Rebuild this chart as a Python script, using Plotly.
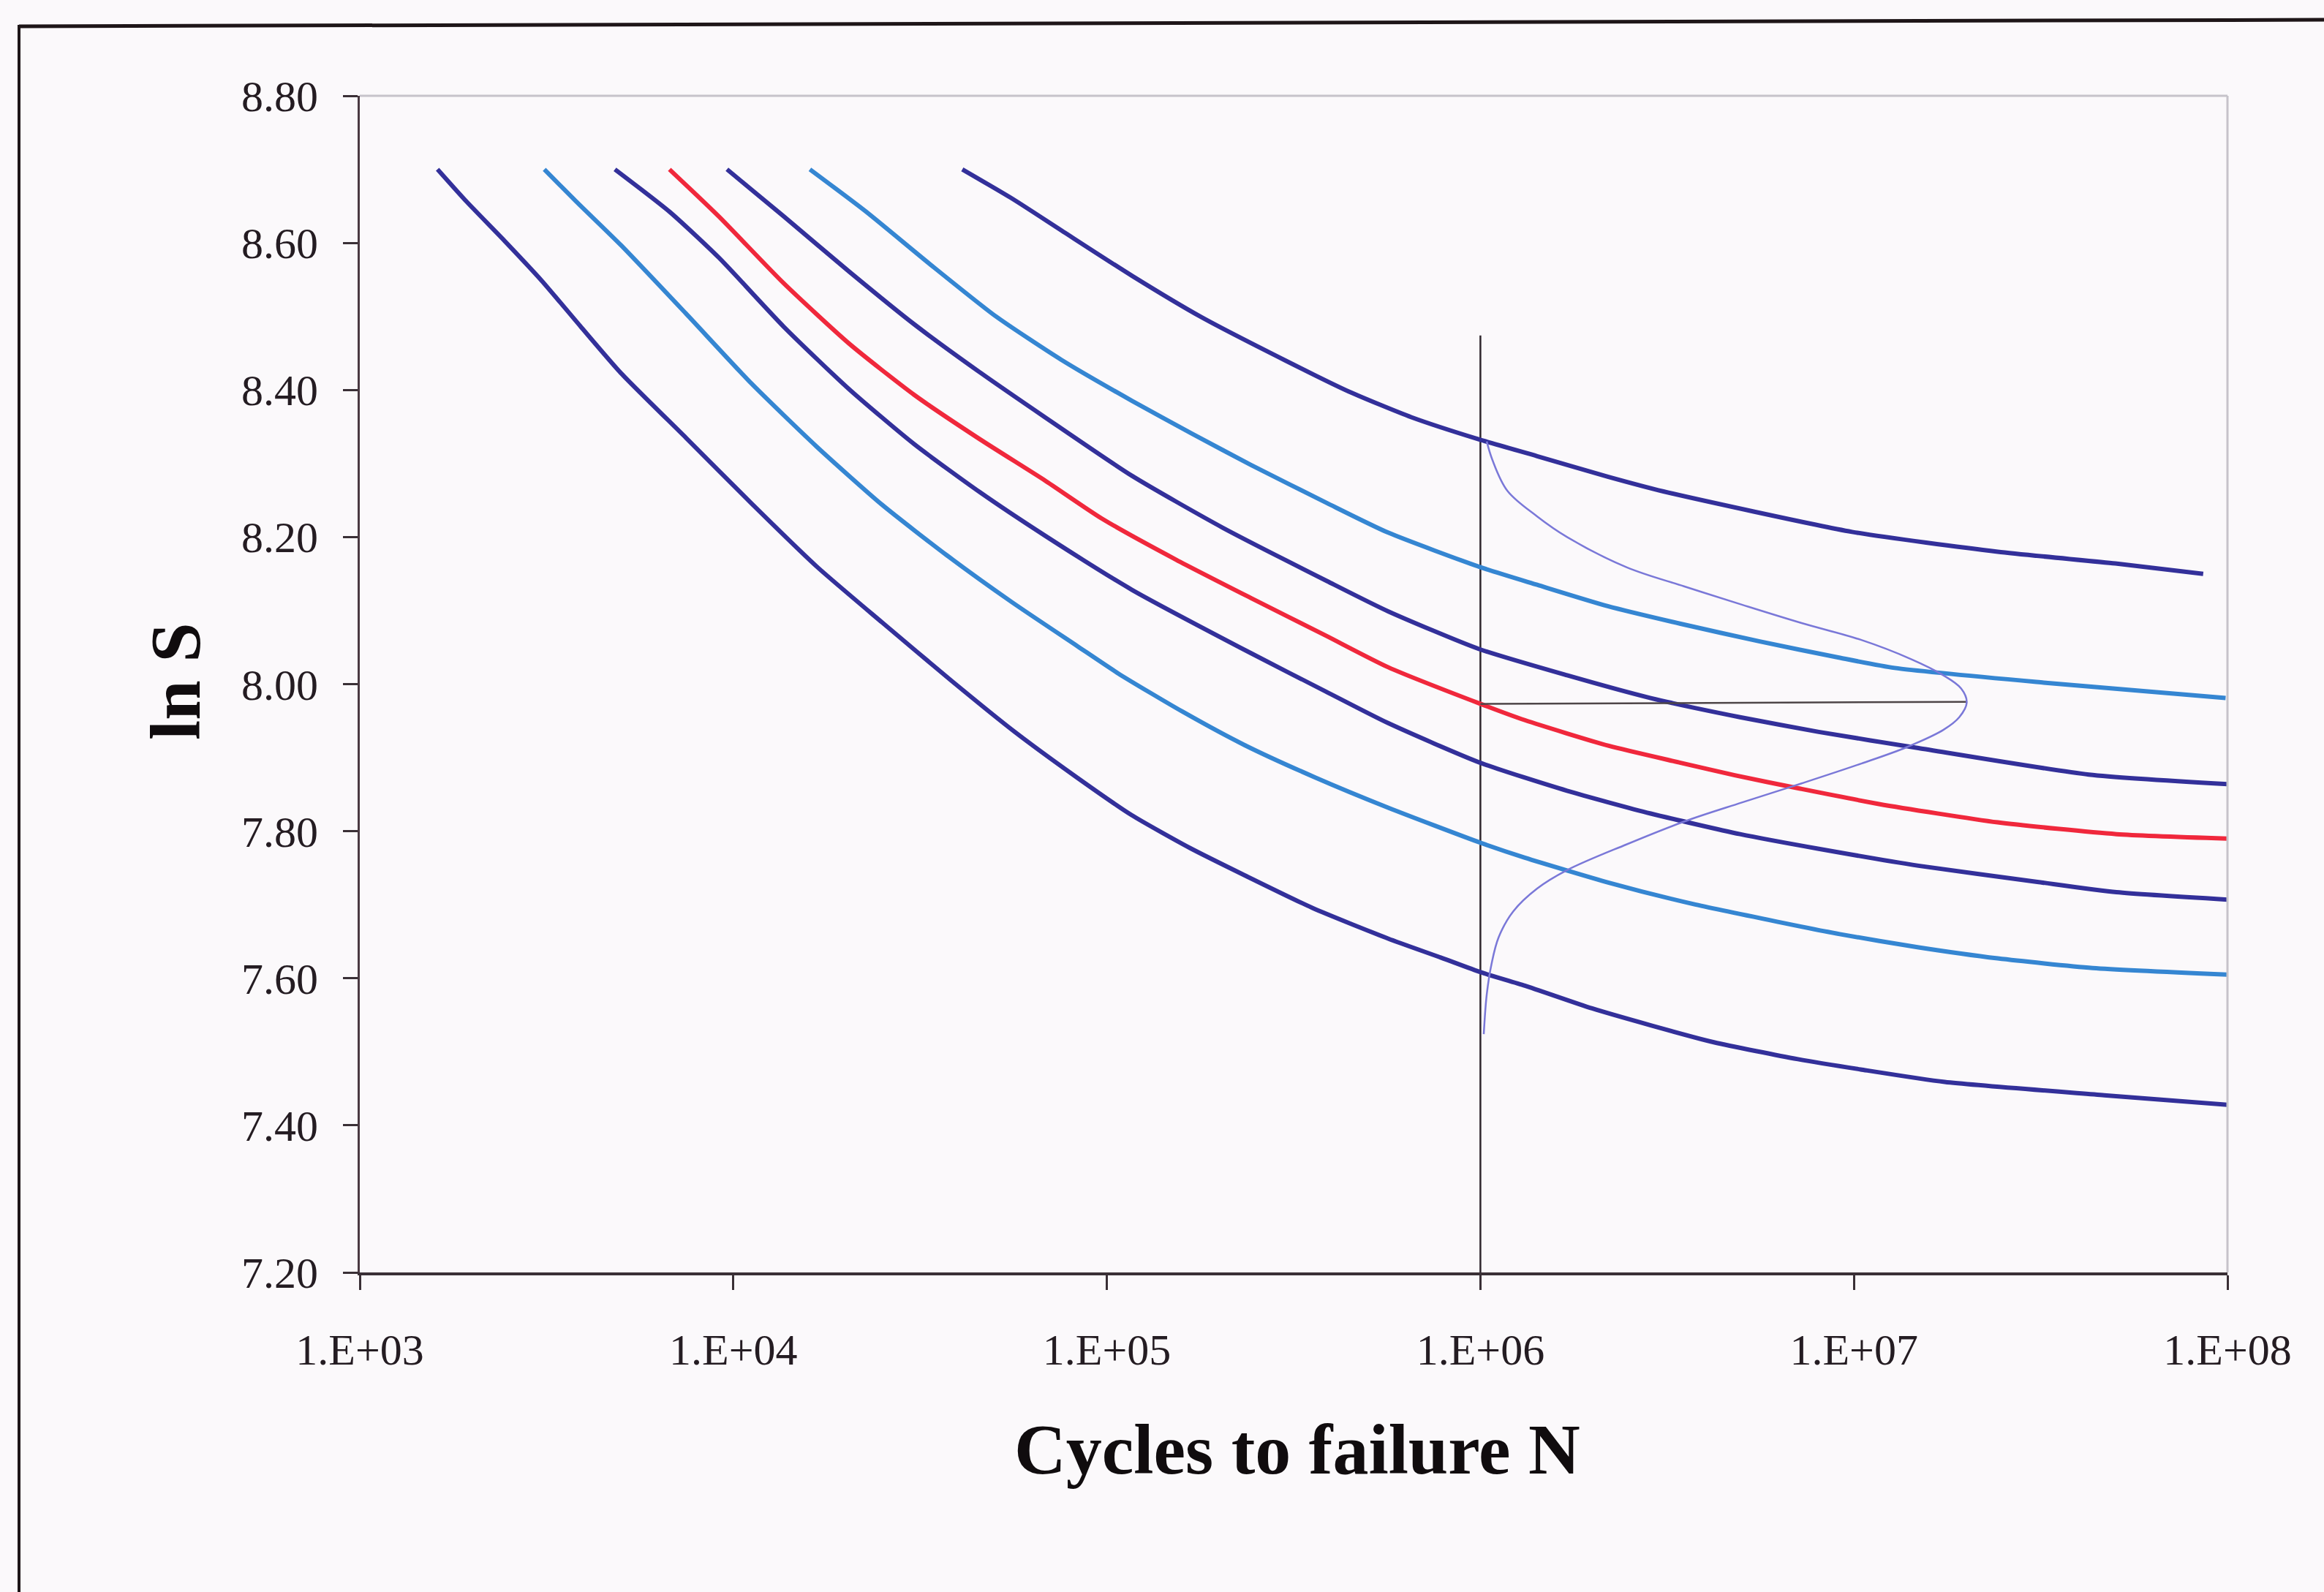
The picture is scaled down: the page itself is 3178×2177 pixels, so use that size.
import plotly.graph_objects as go

# ---------------- data ----------------
# x values are log10(N), y values are ln S
x_tickvals = [1e3, 1e4, 1e5, 1e6, 1e7, 1e8]
x_ticktext = ["1.E+03", "1.E+04", "1.E+05", "1.E+06", "1.E+07", "1.E+08"]
y_tickvals = [7.20, 7.40, 7.60, 7.80, 8.00, 8.20, 8.40, 8.60, 8.80]
y_ticktext = ["7.20", "7.40", "7.60", "7.80", "8.00", "8.20", "8.40", "8.60", "8.80"]

c1_logN = [3.208, 3.286, 3.387, 3.488, 3.590, 3.699, 3.873, 4.048, 4.223, 4.398, 4.583, 4.751,
           4.920, 5.066, 5.223, 5.369, 5.549, 5.753, 5.895, 6.002, 6.119, 6.299, 6.456, 6.625,
           6.850, 7.018, 7.243, 7.670, 8.000]
c1_lnS = [8.700, 8.656, 8.603, 8.548, 8.487, 8.423, 8.335, 8.246, 8.160, 8.084, 8.005, 7.936,
          7.873, 7.822, 7.777, 7.740, 7.696, 7.654, 7.628, 7.608, 7.590, 7.559, 7.536, 7.513,
          7.490, 7.476, 7.459, 7.441, 7.428]

c2_logN = [3.494, 3.578, 3.699, 3.873, 4.048, 4.223, 4.398, 4.572, 4.747, 4.920, 5.032, 5.201,
           5.369, 5.558, 5.753, 6.002, 6.119, 6.344, 6.569, 6.794, 6.962, 7.173, 7.385, 7.639, 8.000]
c2_lnS = [8.700, 8.657, 8.597, 8.504, 8.409, 8.323, 8.244, 8.175, 8.111, 8.052, 8.014, 7.963,
          7.917, 7.873, 7.832, 7.784, 7.764, 7.730, 7.701, 7.677, 7.660, 7.642, 7.627, 7.614, 7.605]

c3_logN = [3.683, 3.830, 3.961, 4.135, 4.310, 4.485, 4.660, 4.834, 5.068, 5.386, 5.586, 5.753,
           6.000, 6.232, 6.456, 6.695, 6.906, 7.173, 7.491, 7.703, 8.000]
c3_lnS = [8.700, 8.642, 8.580, 8.486, 8.401, 8.326, 8.261, 8.202, 8.128, 8.042, 7.990, 7.947,
          7.893, 7.855, 7.824, 7.796, 7.776, 7.753, 7.731, 7.717, 7.707]

c4_logN = [3.829, 3.961, 4.135, 4.310, 4.485, 4.660, 4.834, 4.987, 5.186, 5.386, 5.586, 5.753,
           6.001, 6.119, 6.344, 6.536, 6.681, 6.854, 7.067, 7.385, 7.703, 8.000]
c4_lnS = [8.700, 8.636, 8.545, 8.463, 8.393, 8.333, 8.277, 8.225, 8.169, 8.117, 8.066, 8.023,
          7.973, 7.951, 7.916, 7.893, 7.876, 7.858, 7.837, 7.812, 7.796, 7.790]

c5_logN = [3.983, 4.135, 4.310, 4.485, 4.660, 4.834, 5.068, 5.309, 5.590, 5.753, 5.995, 6.232,
           6.456, 6.695, 6.906, 7.173, 7.629, 8.000]
c5_lnS = [8.700, 8.636, 8.561, 8.489, 8.424, 8.363, 8.283, 8.213, 8.140, 8.099, 8.048, 8.012,
          7.981, 7.955, 7.935, 7.913, 7.877, 7.864]

c6_logN = [4.205, 4.354, 4.529, 4.703, 4.878, 5.068, 5.230, 5.386, 5.590, 5.753, 6.000, 6.152,
           6.341, 6.536, 6.748, 6.960, 7.109, 7.508, 7.995]
c6_lnS = [8.700, 8.643, 8.570, 8.500, 8.441, 8.385, 8.340, 8.298, 8.246, 8.206, 8.159, 8.135,
          8.106, 8.082, 8.058, 8.036, 8.022, 8.002, 7.981]

c7_logN = [4.613, 4.747, 4.878, 5.068, 5.253, 5.478, 5.647, 5.815, 5.995, 6.152, 6.341, 6.490,
           6.995, 7.385, 7.700, 7.935]
c7_lnS = [8.700, 8.660, 8.617, 8.555, 8.499, 8.440, 8.398, 8.363, 8.333, 8.310, 8.282, 8.262,
          8.207, 8.180, 8.164, 8.150]

pdf_logN = [6.017, 6.032, 6.072, 6.152, 6.232, 6.391, 6.545, 6.700, 6.860, 7.020, 7.153, 7.236,
            7.287, 7.302, 7.282, 7.240, 7.140, 7.020, 6.860, 6.700, 6.545, 6.391, 6.232, 6.152,
            6.088, 6.049, 6.030, 6.017, 6.009]
pdf_lnS = [8.330, 8.305, 8.263, 8.228, 8.200, 8.159, 8.133, 8.108, 8.083, 8.060, 8.034, 8.013,
           7.994, 7.975, 7.955, 7.938, 7.914, 7.892, 7.865, 7.839, 7.813, 7.782, 7.747, 7.722,
           7.691, 7.656, 7.620, 7.578, 7.524]

vline_logN = [6.0, 6.0]
vline_lnS = [7.20, 8.474]
hline_logN = [6.0, 7.302]
hline_lnS = [7.973, 7.976]

DARK = "#33309a"
LIGHT = "#3586d2"
RED = "#f0283c"

series = [
    (c1_logN, c1_lnS, DARK),
    (c2_logN, c2_lnS, LIGHT),
    (c3_logN, c3_lnS, DARK),
    (c4_logN, c4_lnS, RED),
    (c5_logN, c5_lnS, DARK),
    (c6_logN, c6_lnS, LIGHT),
    (c7_logN, c7_lnS, DARK),
]

fig = go.Figure()

# reference lines
fig.add_trace(go.Scatter(x=[10 ** v for v in vline_logN], y=vline_lnS, mode="lines",
                         line=dict(color="#2e262c", width=2.5), hoverinfo="skip"))

for lx, ly, col in series:
    fig.add_trace(go.Scatter(x=[10 ** v for v in lx], y=ly, mode="lines",
                             line=dict(color=col, width=6, shape="spline", smoothing=0.6)))

fig.add_trace(go.Scatter(x=[10 ** v for v in hline_logN], y=hline_lnS, mode="lines",
                         line=dict(color="#4e4648", width=2.5), hoverinfo="skip"))
fig.add_trace(go.Scatter(x=[10 ** v for v in pdf_logN], y=pdf_lnS, mode="lines",
                         line=dict(color="#7a78d8", width=2.5, shape="spline", smoothing=1.0)))

W, H = 3178, 2177
L, R, T, B = 492, 132, 131, 437
PW, PH = W - L - R, H - T - B


def px(xp):
    return (xp - L) / PW


def py(yp):
    return (H - B - yp) / PH


axis_font = dict(family="Liberation Serif, Times New Roman, serif", size=60, color="#241c22")

fig.update_layout(
    width=W, height=H,
    margin=dict(l=L, r=R, t=T, b=B, pad=0),
    paper_bgcolor="#fbf9fb",
    plot_bgcolor="#fbf9fb",
    showlegend=False,
    xaxis=dict(type="log", range=[3, 8], tickvals=x_tickvals, ticktext=x_ticktext,
               ticks="outside", ticklen=20, tickwidth=3, tickcolor="#3a3036",
               showline=True, linecolor="#3a3036", linewidth=4,
               showgrid=False, zeroline=False, tickfont=axis_font, ticklabelstandoff=30),
    yaxis=dict(range=[7.2, 8.8], tickvals=y_tickvals, ticktext=y_ticktext,
               ticks="outside", ticklen=20, tickwidth=3, tickcolor="#3a3036",
               showline=True, linecolor="#4a3a42", linewidth=3,
               showgrid=False, zeroline=False, tickfont=axis_font, ticklabelstandoff=22),
    shapes=[
        # plot-area top and right borders (light grey)
        dict(type="line", xref="paper", yref="paper", x0=0, y0=1, x1=1, y1=1,
             line=dict(color="#c6c3ca", width=3)),
        dict(type="line", xref="paper", yref="paper", x0=1, y0=0, x1=1, y1=1,
             line=dict(color="#c6c3ca", width=3)),
        # outer chart frame (top and left edges visible)
        dict(type="line", xref="paper", yref="paper", x0=px(26), y0=py(36), x1=px(W + 5), y1=py(27),
             line=dict(color="#1e1618", width=5)),
        dict(type="line", xref="paper", yref="paper", x0=px(26), y0=py(34), x1=px(26), y1=py(H + 5),
             line=dict(color="#1e1618", width=4)),
    ],
    annotations=[
        dict(text="<b>ln S</b>", xref="paper", yref="paper", x=px(240), y=py(932),
             textangle=-90, showarrow=False, xanchor="center", yanchor="middle",
             font=dict(family="Liberation Serif, Times New Roman, serif", size=98, color="#100c0e")),
        dict(text="<b>Cycles to failure N</b>", xref="paper", yref="paper", x=px(1774), y=py(1982),
             showarrow=False, xanchor="center", yanchor="middle",
             font=dict(family="Liberation Serif, Times New Roman, serif", size=98, color="#100c0e")),
    ],
)

fig.write_html("out.html")
